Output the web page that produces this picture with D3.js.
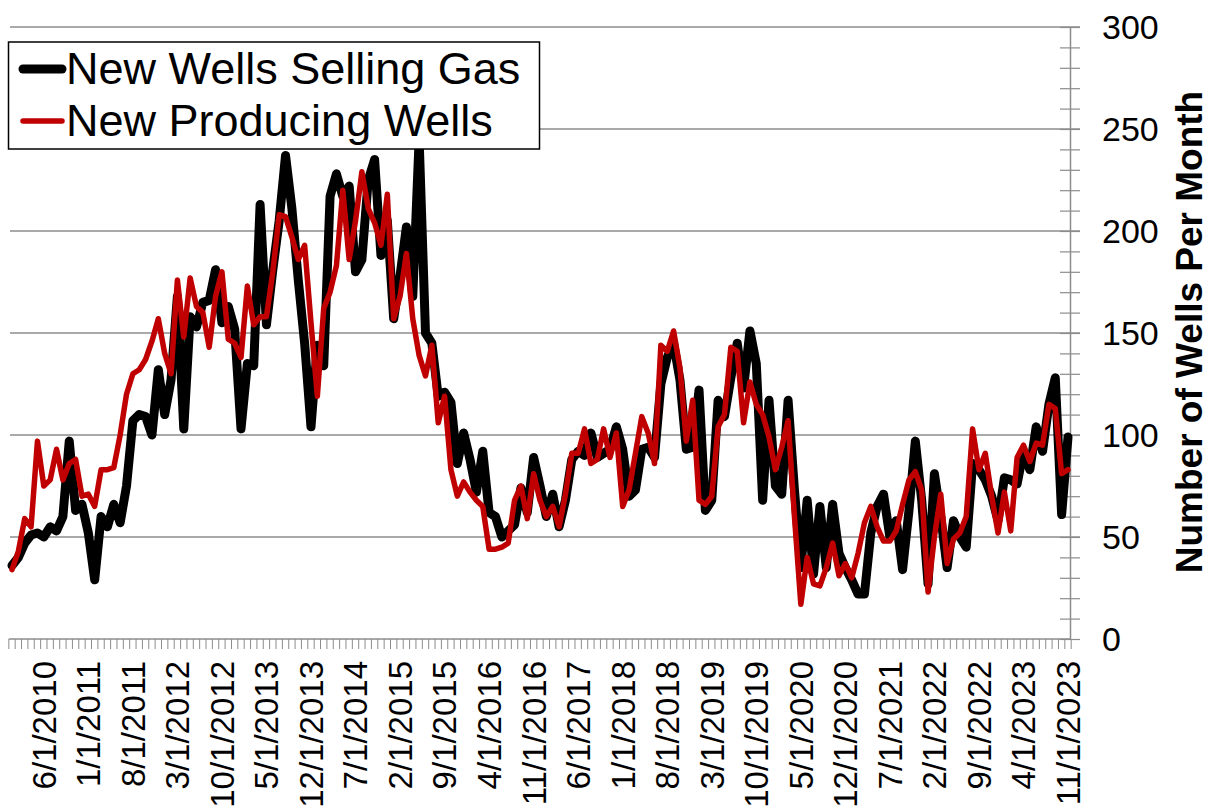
<!DOCTYPE html>
<html><head><meta charset="utf-8">
<script src="https://cdn.jsdelivr.net/npm/d3@7"></script>
<style>html,body{margin:0;padding:0;background:#fff}svg{display:block;font-family:Arial,"Liberation Sans",sans-serif}</style>
</head><body><svg id="c" width="1222" height="809"></svg>
<script>
// Monthly series, 1/1/2010 .. 11/1/2023 (167 months)
const sellingGas = [
 36,40,47,51,52,50,55,53,60,97,
 63,66,52,29,60,55,66,57,75,107,
 110,109,100,132,110,127,168,103,158,153,
 165,166,181,155,163,152,103,135,134,213,
 154,181,205,237,211,176,145,104,144,134,
 217,228,217,222,180,186,225,235,188,205,
 157,178,202,168,245,150,145,119,121,116,
 86,101,88,72,92,62,60,50,53,56,
 74,62,89,75,60,71,55,68,88,92,
 90,101,89,91,93,104,93,70,73,93,
 94,89,125,138,145,127,93,94,122,63,
 68,117,109,128,145,123,151,135,68,117,
 75,71,117,73,35,68,32,65,35,66,
 42,35,29,22,22,52,65,71,50,58,
 34,63,97,68,27,81,60,35,58,50,
 45,86,83,78,70,58,79,78,76,92,
 83,104,92,115,128,61,99
];
const producing = [
 34,43,59,55,97,75,78,93,78,86,
 88,70,71,65,83,83,84,100,120,130,
 132,137,146,157,140,130,176,148,177,163,
 160,143,168,180,147,145,138,173,154,158,
 158,180,208,207,197,186,193,155,119,162,
 170,183,220,186,205,229,211,204,193,218,
 157,168,189,157,139,129,144,106,119,83,
 70,77,72,68,65,44,44,45,47,68,
 75,59,81,68,60,65,55,71,91,91,
 103,86,88,103,89,101,65,73,91,109,
 101,86,144,141,151,133,97,117,68,66,
 70,104,110,143,141,106,126,115,110,99,
 83,94,107,60,17,40,27,26,35,47,
 31,37,30,42,57,65,55,48,48,53,
 66,78,82,73,23,50,71,37,49,52,
 60,103,83,91,70,52,72,53,89,95,
 87,96,95,115,113,81,83
];
const xTickLabels = ["6/1/2010","1/1/2011","8/1/2011","3/1/2012","10/1/2012","5/1/2013","12/1/2013","7/1/2014","2/1/2015","9/1/2015","4/1/2016","11/1/2016","6/1/2017","1/1/2018","8/1/2018","3/1/2019","10/1/2019","5/1/2020","12/1/2020","7/1/2021","2/1/2022","9/1/2022","4/1/2023","11/1/2023"];
const yTicks = [0,50,100,150,200,250,300];
const seriesNames = ["New Wells Selling Gas","New Producing Wells"];
const seriesColors = ["#000000","#c00000"];

const months = d3.timeMonth.range(new Date(2010,0,1), new Date(2023,11,1));
const fmt = d => (d.getMonth()+1)+"/1/"+d.getFullYear();
const cats = months.map(fmt);

const svg = d3.select("#c");
const x = d3.scalePoint().domain(cats).range([12,1068]);
const step = x.step();
const y = d3.scaleLinear().domain([0,300]).range([639,27]);
const axisX = 1070;

// gridlines
svg.append("g").selectAll("line").data(yTicks.filter(v=>v>0)).join("line")
  .attr("x1",10).attr("x2",1080).attr("y1",d=>y(d)).attr("y2",d=>y(d))
  .attr("stroke","#8c8c8c").attr("stroke-width",1.5);

// y axis (right)
const yAxis = d3.axisRight(y).tickValues(d3.range(0,301,10)).tickSize(0).tickFormat("");
const ga = svg.append("g").attr("transform",`translate(${axisX},0)`).call(yAxis);
ga.select(".domain").attr("stroke","#8c8c8c").attr("stroke-width",1.5);
ga.selectAll(".tick").append("line").attr("x1",-10).attr("x2",10).attr("stroke","#8c8c8c").attr("stroke-width",1.2);
svg.append("g").selectAll("text").data(yTicks).join("text")
  .attr("x",1102).attr("y",d=>y(d)).attr("dy","0.36em")
  .attr("font-size",34).attr("fill","#000").text(d=>d);

// y title
svg.append("text").attr("transform","translate(1202,332) rotate(-90)")
  .attr("text-anchor","middle").attr("font-size",37).attr("font-weight","bold")
  .text("Number of Wells Per Month");

// x axis
svg.append("line").attr("x1",x(cats[0])-step/2).attr("x2",axisX)
  .attr("y1",639).attr("y2",639).attr("stroke","#8c8c8c").attr("stroke-width",1.5);
svg.append("g").selectAll("line").data(d3.range(cats.length+1)).join("line")
  .attr("x1",i=>x(cats[0])+(i-0.5)*step).attr("x2",i=>x(cats[0])+(i-0.5)*step)
  .attr("y1",639).attr("y2",649).attr("stroke","#8c8c8c").attr("stroke-width",1);
svg.append("g").selectAll("text").data(xTickLabels).join("text")
  .attr("transform",d=>`translate(${x(d)},661) rotate(-90)`)
  .attr("text-anchor","end").attr("dy","0.36em")
  .attr("font-size",33).attr("fill","#000").text(d=>d);

// lines
const line = d3.line().x((d,i)=>x(cats[i])).y(d=>y(d)).curve(d3.curveLinear);
svg.append("path").datum(sellingGas).attr("d",line).attr("fill","none")
  .attr("stroke",seriesColors[0]).attr("stroke-width",9).attr("stroke-linejoin","round").attr("stroke-linecap","round");
svg.append("path").datum(producing).attr("d",line).attr("fill","none")
  .attr("stroke",seriesColors[1]).attr("stroke-width",5.5).attr("stroke-linejoin","round").attr("stroke-linecap","round");

// legend
const lg = svg.append("g");
lg.append("rect").attr("x",8.5).attr("y",42).attr("width",531).attr("height",107)
  .attr("fill","#fff").attr("stroke","#000").attr("stroke-width",1.5);
seriesNames.forEach((n,k)=>{
  const cy = 69 + k*52;
  lg.append("line").attr("x1",23).attr("x2",62).attr("y1",cy).attr("y2",cy)
    .attr("stroke",seriesColors[k]).attr("stroke-width",k===0?9:5.5).attr("stroke-linecap","round");
  lg.append("text").attr("x",66).attr("y",cy+15).attr("font-size",45).attr("fill","#000").text(n);
});
</script></body></html>
